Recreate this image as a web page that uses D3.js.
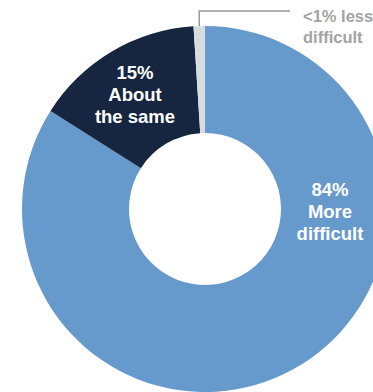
<!DOCTYPE html>
<html>
<head>
<meta charset="utf-8">
<script src="https://cdn.jsdelivr.net/npm/d3@7"></script>
<style>
  body { margin: 0; background: #fff; }
  text { font-family: "Liberation Sans", Arial, sans-serif; font-weight: bold; }
</style>
</head>
<body>
<div id="chart"></div>
<script>
// data
var labels = ["More difficult", "About the same", "Less difficult"];
var values = [84, 15, 1];
var pctText = ["84%", "15%", "<1%"];
var colors = ["#6699cc", "#172640", "#d9dcdf"];

var svgWidth = 373;
var svgHeight = 392;
var cx = 205;
var cy = 209;
var outerR = 183;
var innerR = 76;

var svg = d3.select("#chart")
  .append("svg")
  .attr("width", svgWidth)
  .attr("height", svgHeight);

var g = svg.append("g")
  .attr("transform", `translate(${cx}, ${cy})`);

var pie = d3.pie().sort(null).value(d => d);
var arcs = pie(values);

var arc = d3.arc().innerRadius(innerR).outerRadius(outerR);

g.selectAll("path")
  .data(arcs)
  .enter()
  .append("path")
  .attr("d", arc)
  .attr("fill", (d, i) => colors[i]);

// in-slice labels
var inLabels = [
  { i: 0, x: 330, y: 196, lines: [pctText[0], "More", "difficult"] },
  { i: 1, x: 135, y: 79, lines: [pctText[1], "About", "the same"] }
];

inLabels.forEach(function(l) {
  var t = svg.append("text")
    .attr("x", l.x)
    .attr("y", l.y)
    .attr("text-anchor", "middle")
    .attr("fill", "#fff")
    .style("font-size", "18.5px");
  l.lines.forEach(function(s, k) {
    t.append("tspan")
      .attr("x", l.x)
      .attr("dy", k === 0 ? 0 : 22)
      .text(s);
  });
});

// leader for the small slice
var small = arcs[2];
var midA = (small.startAngle + small.endAngle) / 2;
var lx = cx + Math.sin(midA) * outerR;
var ly = cy - Math.cos(midA) * outerR;

svg.append("polyline")
  .attr("points", `${lx},${ly} ${lx},11 290,11`)
  .attr("fill", "none")
  .attr("stroke", "#999")
  .attr("stroke-width", 1.5);

var t2 = svg.append("text")
  .attr("x", 303)
  .attr("y", 22)
  .attr("fill", "#a3a3a3")
  .style("font-size", "16.5px");
t2.append("tspan").attr("x", 303).text(pctText[2] + " less");
t2.append("tspan").attr("x", 303).attr("dy", 21).text("difficult");
</script>
</body>
</html>
